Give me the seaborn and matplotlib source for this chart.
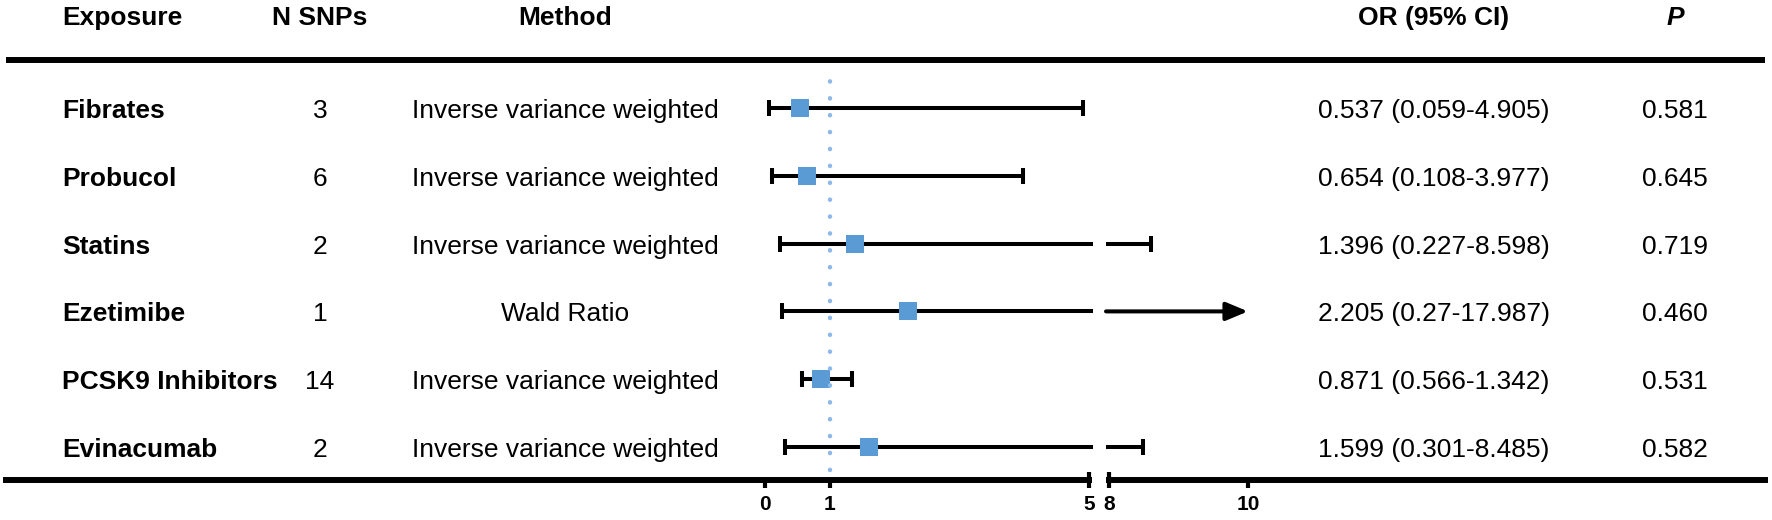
import numpy as np
import matplotlib
matplotlib.use("Agg")
import matplotlib.pyplot as plt
import matplotlib.transforms as mtransforms
from matplotlib.lines import Line2D
import seaborn as sns

# Data
exposures = ["Fibrates", "Probucol", "Statins", "Ezetimibe", "PCSK9 Inhibitors", "Evinacumab"]
n_snps = [3, 6, 2, 1, 14, 2]
methods = ["Inverse variance weighted", "Inverse variance weighted", "Inverse variance weighted",
           "Wald Ratio", "Inverse variance weighted", "Inverse variance weighted"]
or_vals = [0.537, 0.654, 1.396, 2.205, 0.871, 1.599]
ci_low = [0.059, 0.108, 0.227, 0.27, 0.566, 0.301]
ci_high = [4.905, 3.977, 8.598, 17.987, 1.342, 8.485]
p_vals = ["0.581", "0.645", "0.719", "0.460", "0.531", "0.582"]
headers = ["Exposure", "N SNPs", "Method", "OR (95% CI)", "P"]
left_ticks = [0, 1]
left_end = 5
right_start = 8
right_ticks = [10]
axis_max = 10

# Layout (pixels, from top-left)
W, H, DPI = 1772, 520, 100
TOP_RULE_Y, BOTTOM_RULE_Y = 60, 480
ROW0_Y, ROW_STEP = 108, 67.8
RULE_X0, RULE_X1 = 6, 1765
L_ZERO_PX, L_SCALE, L_RIGHT_PX = 765, 64.8, 1093
R_LEFT_PX, R_START_PX, R_SCALE = 1106, 1109, 69.5
COL_X = {"exposure": 62, "snps": 320, "method": 565, "or": 1434, "p": 1675}
HEADER_BASE_Y = 25
BASE_OFFSET = 10

BLUE = "#5B9BD5"
DOT_BLUE = "#8DB9EA"
FS = 19
TICK_FS = 15

sns.set_theme(style="ticks", rc={"text.color": "black", "axes.labelcolor": "black",
                                 "xtick.color": "black", "ytick.color": "black",
                                 "xtick.labelsize": TICK_FS})
plt.rcParams["font.family"] = ["Liberation Sans", "DejaVu Sans"]


def fx(px):
    return px / W


def fy(py):
    return 1 - py / H


fig = plt.figure(figsize=(W / DPI, H / DPI), dpi=DPI)
fig.patch.set_facecolor("white")

ax_h = (BOTTOM_RULE_Y - TOP_RULE_Y) / H
ax_l = fig.add_axes([fx(RULE_X0), fy(BOTTOM_RULE_Y), fx(L_RIGHT_PX - RULE_X0), ax_h])
ax_r = fig.add_axes([fx(R_LEFT_PX), fy(BOTTOM_RULE_Y), fx(W - R_LEFT_PX), ax_h])

rows = np.arange(len(exposures))
or_arr = np.array(or_vals)
lo_arr = np.array(ci_low)
hi_arr = np.array(ci_high)
xerr = np.vstack([or_arr - lo_arr, hi_arr - or_arr])

# left panel: all intervals, clipped at the break
ax_l.errorbar(or_arr, rows, xerr=xerr, fmt="none", ecolor="black",
              elinewidth=2.9, capsize=6, capthick=2.9, zorder=2)
sns.scatterplot(x=or_arr, y=rows, ax=ax_l, marker="s", s=150, color=BLUE,
                linewidth=0, zorder=3)

# right panel: intervals that reach past the break
keep = hi_arr <= axis_max
ax_r.errorbar(or_arr[keep], rows[keep], xerr=xerr[:, keep], fmt="none", ecolor="black",
              elinewidth=2.9, capsize=6, capthick=2.9, zorder=2)

r_xlim = (right_start - (R_START_PX - R_LEFT_PX) / R_SCALE,
          right_start + (W - R_START_PX) / R_SCALE)
for r in rows[~keep]:
    ax_r.annotate("", xy=(axis_max, r), xytext=(r_xlim[0], r),
                  arrowprops=dict(arrowstyle="-|>,head_length=0.6,head_width=0.25",
                                  color="black", lw=2.9, shrinkA=0, shrinkB=0,
                                  mutation_scale=22),
                  annotation_clip=False)

ylim = ((BOTTOM_RULE_Y - ROW0_Y) / ROW_STEP, (TOP_RULE_Y - ROW0_Y) / ROW_STEP)
l_xlim = ((RULE_X0 - L_ZERO_PX) / L_SCALE, (L_RIGHT_PX - L_ZERO_PX) / L_SCALE)

# reference line at OR = 1
dot_lo = (BOTTOM_RULE_Y - 470) / (BOTTOM_RULE_Y - TOP_RULE_Y)
dot_hi = (BOTTOM_RULE_Y - 75) / (BOTTOM_RULE_Y - TOP_RULE_Y)
ax_l.axvline(1, dot_lo, dot_hi, color=DOT_BLUE, lw=3.2, linestyle=(0, (0.05, 3.75)),
             dash_capstyle="round", zorder=4)

ax_l.set_xticks(left_ticks, labels=[str(t) for t in left_ticks])
ax_l.set_xticks([left_end], labels=[str(left_end)], minor=True)
ax_r.set_xticks(right_ticks, labels=[str(t) for t in right_ticks])
ax_r.set_xticks([right_start], labels=[str(right_start)], minor=True)

for ax, xl in [(ax_l, l_xlim), (ax_r, r_xlim)]:
    ax.set_xlim(*xl)
    ax.set_ylim(*ylim)
    ax.set_xlabel("")
    ax.set_ylabel("")
    ax.set_yticks([])
    ax.set_facecolor("none")
    for s in ["left", "top", "right"]:
        ax.spines[s].set_visible(False)
    ax.spines["bottom"].set_linewidth(4.3)
    ax.spines["bottom"].set_color("black")
    ax.tick_params(axis="x", which="major", direction="out", length=6, width=3,
                   pad=5, labelsize=TICK_FS, color="black", labelcolor="black", bottom=True)
    ax.tick_params(axis="x", which="minor", direction="inout", length=11, width=3,
                   pad=5.5, labelsize=TICK_FS, color="black", labelcolor="black", bottom=True)
    for lab in ax.get_xticklabels(which="both"):
        lab.set_fontweight("bold")
        lab.set_fontsize(TICK_FS)

ax_l.spines["bottom"].set_bounds(l_xlim[0], left_end)
ax_r.spines["bottom"].set_bounds(right_start, right_start + (RULE_X1 - R_START_PX) / R_SCALE)

# top rule
fig.add_artist(Line2D([fx(RULE_X0), fx(RULE_X1)], [fy(TOP_RULE_Y)] * 2,
                      lw=4.3, color="black", solid_capstyle="butt"))

# header
hx = [COL_X["exposure"], COL_X["snps"], COL_X["method"], COL_X["or"], COL_X["p"]]
ha = ["left", "center", "center", "center", "center"]
for txt, x, a in zip(headers, hx, ha):
    fig.text(fx(x), fy(HEADER_BASE_Y), txt, ha=a, va="baseline", fontsize=FS,
             fontweight="bold", fontstyle="italic" if txt == "P" else "normal")

# table body
row_trans = mtransforms.blended_transform_factory(fig.transFigure, ax_l.transData)
row_trans = mtransforms.offset_copy(row_trans, fig=fig, y=-BASE_OFFSET, units="dots")
for i in rows:
    or_txt = f"{or_vals[i]} ({ci_low[i]}-{ci_high[i]})"
    fig.text(fx(COL_X["exposure"]), i, exposures[i], transform=row_trans, ha="left",
             va="baseline", fontsize=FS, fontweight="bold")
    fig.text(fx(COL_X["snps"]), i, str(n_snps[i]), transform=row_trans, ha="center",
             va="baseline", fontsize=FS)
    fig.text(fx(COL_X["method"]), i, methods[i], transform=row_trans, ha="center",
             va="baseline", fontsize=FS)
    fig.text(fx(COL_X["or"]), i, or_txt, transform=row_trans, ha="center",
             va="baseline", fontsize=FS)
    fig.text(fx(COL_X["p"]), i, p_vals[i], transform=row_trans, ha="center",
             va="baseline", fontsize=FS)

fig.savefig("out.png", dpi=DPI, facecolor="white")
